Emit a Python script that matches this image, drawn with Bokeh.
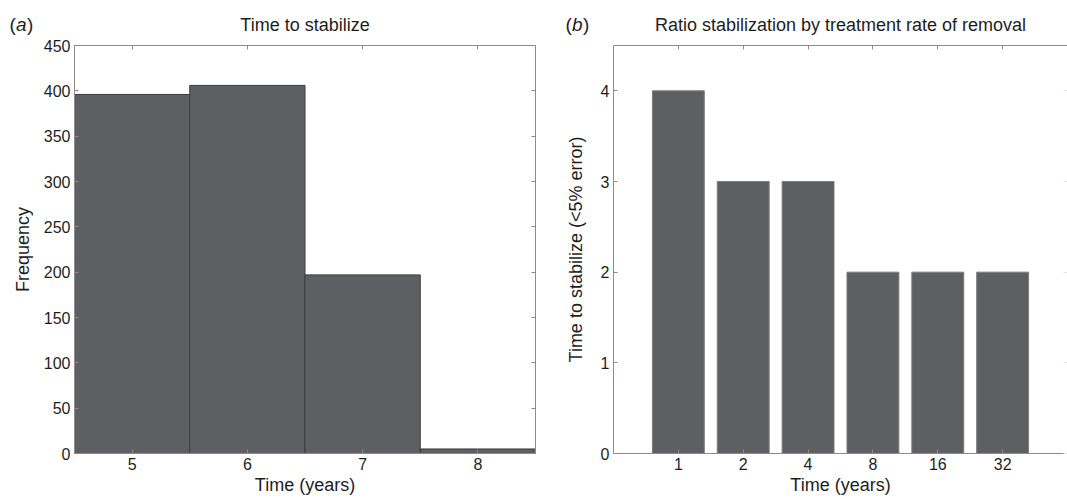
from bokeh.plotting import figure
from bokeh.layouts import row
from bokeh.models import Range1d, LinearAxis
from bokeh.core.properties import value
from bokeh.embed import file_html
from bokeh.resources import INLINE

# ---- data ----
hist_bins = [5, 6, 7, 8]
hist_counts = [396, 406, 197, 5]
left_yticks = [0, 50, 100, 150, 200, 250, 300, 350, 400, 450]

rate_labels = ["1", "2", "4", "8", "16", "32"]
stabilize_years = [4, 3, 3, 2, 2, 2]
right_yticks = [0, 1, 2, 3, 4]

FONT = "Liberation Sans"
TEXT = "#1e1e1e"
FRAME = "#8c8c8c"
BAR = "#5e5f62"


def style_axis(ax, ticks, show_labels=True, line=True, tick_color=FRAME):
    ax.ticker = ticks
    ax.axis_line_color = FRAME if line else None
    ax.major_tick_line_color = tick_color
    ax.major_tick_in = 4
    ax.major_tick_out = 0
    ax.minor_tick_line_color = None
    ax.major_label_text_font = FONT
    ax.major_label_text_font_size = "16px"
    ax.major_label_text_color = TEXT
    ax.axis_label_text_font = FONT
    ax.axis_label_text_font_size = "18px"
    ax.axis_label_text_font_style = "normal"
    ax.axis_label_text_color = TEXT
    ax.major_label_standoff = 4
    if not show_labels:
        ax.major_label_overrides = {t: "" for t in ticks}
        ax.major_label_standoff = 0


def style_title(p, text):
    p.title.text = text
    p.title.align = "center"
    p.title.text_font = FONT
    p.title.text_font_size = "18px"
    p.title.text_font_style = "normal"
    p.title.text_color = TEXT
    p.title.standoff = 17
    p.title.vertical_align = "top"


def panel_label(p, x, y, x_off, letter):
    parts = [("(", "normal", 0), (letter, "italic", 6.5), (")", "normal", 17.5)]
    for txt, style, dx in parts:
        p.text(x=[x], y=[y], text=[txt], x_offset=x_off + dx, y_offset=-21,
               text_font=value(FONT), text_font_size="19px", text_font_style=style,
               text_color=TEXT, text_baseline="alphabetic", level="overlay")


# ---- panel (a) ----
p1 = figure(width=560, height=499, x_range=Range1d(4.5, 8.5), y_range=Range1d(0, 450),
            output_backend="svg", toolbar_location=None,
            min_border_left=74, min_border_right=25, min_border_top=45, min_border_bottom=46)
p1.quad(left=[b - 0.5 for b in hist_bins], right=[b + 0.5 for b in hist_bins],
        bottom=0, top=hist_counts, fill_color=BAR, line_color="#3c3c3c", line_width=1)
p1.xgrid.visible = False
p1.ygrid.visible = False
p1.outline_line_color = FRAME
p1.xaxis.axis_label = "Time (years)"
p1.yaxis.axis_label = "Frequency"
style_axis(p1.xaxis[0], hist_bins)
style_axis(p1.yaxis[0], left_yticks)
p1.xaxis.axis_label_standoff = 2
p1.yaxis.axis_label_standoff = 8
top1 = LinearAxis()
style_axis(top1, hist_bins, show_labels=False)
p1.add_layout(top1, "above")
right1 = LinearAxis()
style_axis(right1, left_yticks, show_labels=False)
p1.add_layout(right1, "right")
style_title(p1, "Time to stabilize")
panel_label(p1, 4.5, 450, -65, "a")

# ---- panel (b) ----
xs = list(range(1, len(rate_labels) + 1))
p2 = figure(width=507, height=499, x_range=Range1d(0, 7), y_range=Range1d(0, 4.5),
            output_backend="svg", toolbar_location=None,
            min_border_left=53, min_border_right=0, min_border_top=45, min_border_bottom=46)
p2.vbar(x=xs, top=stabilize_years, width=0.8, bottom=0,
        fill_color=BAR, line_color="#7c7c7c", line_width=1)
p2.xgrid.visible = False
p2.ygrid.visible = False
p2.outline_line_color = None
p2.xaxis.axis_label = "Time (years)"
p2.yaxis.axis_label = "Time to stabilize (<5% error)"
style_axis(p2.xaxis[0], xs)
p2.xaxis.major_label_overrides = {x: lab for x, lab in zip(xs, rate_labels)}
style_axis(p2.yaxis[0], right_yticks)
p2.xaxis.axis_label_standoff = 2
p2.yaxis.axis_label_standoff = 12
top2 = LinearAxis()
style_axis(top2, xs, show_labels=False)
p2.add_layout(top2, "above")
right2 = LinearAxis()
style_axis(right2, right_yticks, show_labels=False, line=False, tick_color="#e4e4e4")
p2.add_layout(right2, "right")
style_title(p2, "Ratio stabilization by treatment rate of removal")
panel_label(p2, 0, 4.5, -48, "b")

layout = row(p1, p2)
open("out.html", "w").write(file_html(layout, INLINE))
